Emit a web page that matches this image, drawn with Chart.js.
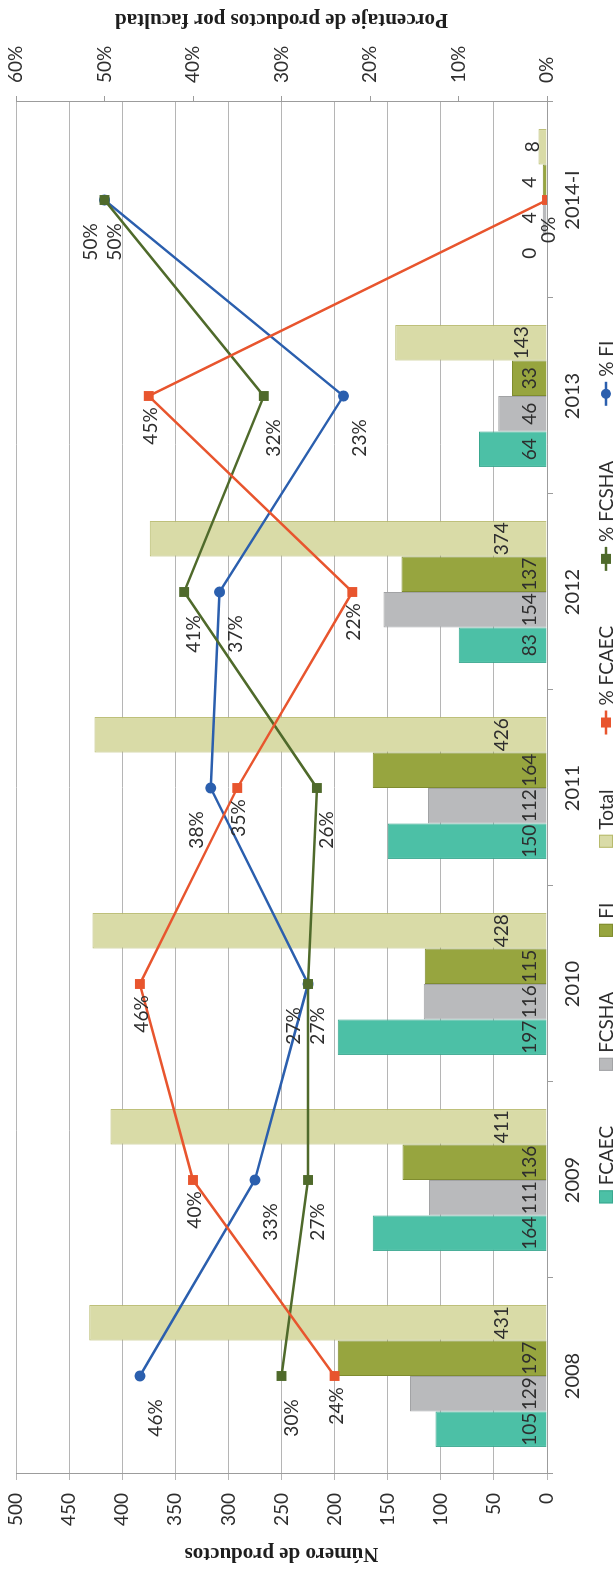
<!DOCTYPE html>
<html>
<head>
<meta charset="utf-8">
<script src="https://cdn.jsdelivr.net/npm/chart.js@4.4.1/dist/chart.umd.min.js"></script>
<style>
  html, body { margin: 0; padding: 0; background: #fff; overflow: hidden; }
  /* the chart is drawn landscape and turned a quarter turn to the left */
  #wrap {
    position: absolute; left: 0; top: 0;
    width: 1570px; height: 616px;
    transform-origin: 0 0;
    transform: translate(0, 1570px) rotate(-90deg);
  }
</style>
</head>
<body>
<div id="wrap"><canvas id="chart" width="1570" height="616"></canvas></div>
<script>
// Data
const years = ['2008', '2009', '2010', '2011', '2012', '2013', '2014-I'];
const fcaec = [105, 164, 197, 150, 83, 64, 0];
const fcsha = [129, 111, 116, 112, 154, 46, 4];
const fi = [197, 136, 115, 164, 137, 33, 4];
const total = [431, 411, 428, 426, 374, 143, 8];
const pctFcaec = [24, 40, 46, 35, 22, 45, 0];
const pctFcsha = [30, 27, 27, 26, 41, 32, 50];
const pctFi = [46, 33, 27, 38, 37, 23, 50];

const FONT = 'Lato, "Open Sans", sans-serif';
const TEXT = '#2e2e2e';
const AXIS = '#9c9c9c';

function barSet(label, data, fill, edge) {
  return {
    type: 'bar', label, data, order: 2,
    backgroundColor: fill, borderColor: edge, borderWidth: 1,
    barPercentage: 1, categoryPercentage: 0.724, yAxisID: 'y'
  };
}

function lineSet(label, data, color, style, radius, dx, dy) {
  return {
    type: 'line', label, data, order: 1, yAxisID: 'y1',
    borderColor: color, backgroundColor: color, borderWidth: 2.5,
    pointStyle: style, pointRadius: radius, pointBorderWidth: 0,
    pointBackgroundColor: color, tension: 0,
    labelDx: dx, labelDy: dy
  };
}

// value labels on the bars and the line points
const valueLabels = {
  id: 'valueLabels',
  afterDatasetsDraw(chart) {
    const ctx = chart.ctx;
    ctx.save();
    ctx.font = '19px ' + FONT;
    ctx.fillStyle = TEXT;
    ctx.textAlign = 'center';
    ctx.textBaseline = 'middle';
    const placed = [];
    chart.data.datasets.forEach((ds, i) => {
      const meta = chart.getDatasetMeta(i);
      meta.data.forEach((el, j) => {
        const v = ds.data[j];
        if (ds.type === 'bar') {
          let off = 17;
          if (ds.label === 'Total') off = v > 300 ? 45 : (v > 100 ? 25 : 14);
          ctx.fillText(String(v), el.x, el.base - off);
        } else {
          const lx = el.x + ds.labelDx;
          let ly = el.y + ds.labelDy;
          // move a label to the other side of its point when it would hit one already drawn
          const hit = placed.some(p => Math.abs(p.x - lx) < 36 && Math.abs(p.y - ly) < 16);
          if (hit) ly = el.y - 14;
          placed.push({ x: lx, y: ly });
          ctx.fillText(v + '%', lx, ly);
        }
      });
    });
    ctx.restore();
  }
};

// legend row and right axis title
const extras = {
  id: 'extras',
  afterDraw(chart) {
    const ctx = chart.ctx;
    const area = chart.chartArea;
    ctx.save();

    // right axis title, written the same way round as the left one
    ctx.font = 'bold 21px "Liberation Serif", "DejaVu Serif", serif';
    ctx.fillStyle = '#1e1e1e';
    ctx.textAlign = 'center';
    ctx.textBaseline = 'middle';
    ctx.translate(chart.width - 19, (area.top + area.bottom) / 2);
    ctx.rotate(-Math.PI / 2);
    ctx.fillText('Porcentaje de productos por facultad', 0, 0);
    ctx.setTransform(1, 0, 0, 1, 0, 0);

    // legend
    ctx.font = '19px ' + FONT;
    ctx.textAlign = 'left';
    const gap = 55, boxW = 13, lineW = 24, pad = 5;
    const items = chart.data.datasets.map(ds => {
      const sym = ds.type === 'bar' ? boxW : lineW;
      return { ds, sym, w: sym + pad + ctx.measureText(ds.label).width };
    });
    const full = items.reduce((s, it) => s + it.w, 0) + gap * (items.length - 1);
    let x = 798 - full / 2;
    const y = 606;
    items.forEach(it => {
      const ds = it.ds;
      if (ds.type === 'bar') {
        ctx.fillStyle = ds.backgroundColor;
        ctx.fillRect(x, y - 7, boxW, 14);
        ctx.strokeStyle = ds.borderColor;
        ctx.lineWidth = 1;
        ctx.strokeRect(x + 0.5, y - 6.5, boxW - 1, 13);
      } else {
        ctx.strokeStyle = ds.borderColor;
        ctx.lineWidth = 2.5;
        ctx.beginPath();
        ctx.moveTo(x, y);
        ctx.lineTo(x + lineW, y);
        ctx.stroke();
        ctx.fillStyle = ds.borderColor;
        if (ds.pointStyle === 'circle') {
          ctx.beginPath();
          ctx.arc(x + lineW / 2, y, 5, 0, Math.PI * 2);
          ctx.fill();
        } else {
          ctx.fillRect(x + lineW / 2 - 5, y - 5, 10, 10);
        }
      }
      ctx.fillStyle = TEXT;
      ctx.fillText(ds.label, x + it.sym + pad, y + 1);
      x += it.w + gap;
    });
    ctx.restore();
  }
};

const tickFont = { family: FONT, size: 19 };

new Chart(document.getElementById('chart'), {
  data: {
    labels: years,
    datasets: [
      barSet('FCAEC', fcaec, '#4cc0a6', '#39a88f'),
      barSet('FCSHA', fcsha, '#b9babc', '#a2a3a5'),
      barSet('FI', fi, '#97a53f', '#7f8c2f'),
      barSet('Total', total, '#d9dba7', '#b7ba6c'),
      lineSet('% FCAEC', pctFcaec, '#e8552e', 'rect', 7, -30, 2),
      lineSet('% FCSHA', pctFcsha, '#4f6a2b', 'rect', 7, -42, 10),
      lineSet('% FI', pctFi, '#2b5fae', 'circle', 5.5, -42, 16)
    ]
  },
  options: {
    responsive: false,
    animation: false,
    devicePixelRatio: 1,
    layout: { padding: { top: 16, left: 0, right: 0, bottom: 0 } },
    plugins: {
      legend: { display: false },
      tooltip: { enabled: false }
    },
    scales: {
      x: {
        grid: { offset: true, drawOnChartArea: false, tickLength: 6, color: AXIS },
        border: { color: AXIS },
        ticks: { font: { family: FONT, size: 20 }, color: TEXT, padding: 8 },
        afterFit: s => { s.height = 69; }
      },
      y: {
        position: 'left', min: 0, max: 500,
        ticks: { stepSize: 50, font: tickFont, color: TEXT, padding: 13 },
        grid: { color: '#b5b5b5', tickLength: 6 },
        border: { color: AXIS },
        title: {
          display: true, text: 'Número de productos', color: '#1e1e1e',
          font: { family: '"Liberation Serif", "DejaVu Serif", serif', size: 21, weight: 'bold' },
          padding: { top: 4, bottom: 0 }
        },
        afterFit: s => { s.width = 96; s.paddingTop = 0; s.paddingBottom = 0; }
      },
      y1: {
        position: 'right', min: 0, max: 60,
        ticks: { stepSize: 10, font: tickFont, color: TEXT, padding: 13, callback: v => v + '%' },
        grid: { drawOnChartArea: false, tickLength: 6, color: AXIS },
        border: { color: AXIS },
        afterFit: s => { s.width = 102; s.paddingTop = 0; s.paddingBottom = 0; }
      }
    }
  },
  plugins: [valueLabels, extras]
});
</script>
</body>
</html>
